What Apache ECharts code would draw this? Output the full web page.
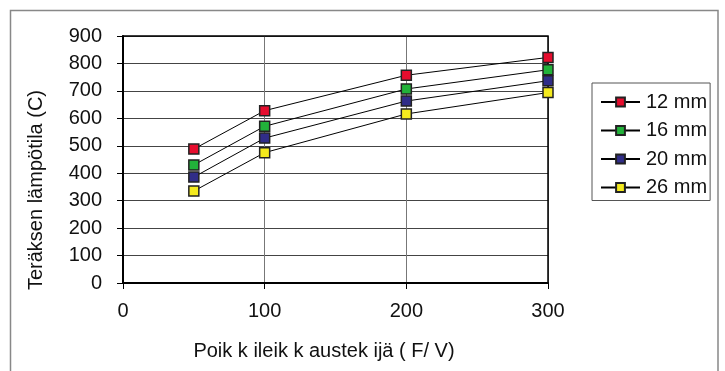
<!DOCTYPE html>
<html>
<head>
<meta charset="utf-8">
<script src="https://cdn.jsdelivr.net/npm/echarts@6/dist/echarts.min.js"></script>
<style>
html,body{margin:0;padding:0;background:#fff;}
#chart{width:725px;height:371px;}
</style>
</head>
<body>
<div id="chart"></div>
<script>
const xValues = [50, 100, 200, 300];
const seriesNames = ['12 mm', '16 mm', '20 mm', '26 mm'];
const values12 = [488, 628, 757, 822];
const values16 = [430, 571, 707, 777];
const values20 = [386, 528, 663, 737];
const values26 = [335, 475, 616, 694];
const colors = ['#E60D2E', '#22B23A', '#302D88', '#F4EA1E'];
const xTitle = 'Poik k ileik k austek ijä ( F/ V)';
const yTitle = 'Teräksen lämpötila (C)';

const allValues = [values12, values16, values20, values26];
const FONT = '"Liberation Sans", Arial, sans-serif';
const FS = 20;

const chart = echarts.init(document.getElementById('chart'), null, {renderer: 'canvas'});
const series = allValues.map((vals, i) => ({
  name: seriesNames[i],
  type: 'line',
  data: xValues.map((x, j) => [x, vals[j]]),
  symbol: 'rect',
  symbolSize: 10,
  color: colors[i],
  itemStyle: {color: colors[i], borderColor: '#222', borderWidth: 1.5},
  lineStyle: {color: '#000', width: 1},
  emphasis: {disabled: true},
  animation: false,
  z: 3
}));

chart.setOption({
  backgroundColor: '#fff',
  animation: false,
  grid: {left: 123, top: 36, width: 425, height: 247, show: false},
  xAxis: {
    type: 'value', min: 0, max: 300, interval: 100,
    axisLine: {show: true, onZero: false, lineStyle: {color: '#000', width: 2}},
    axisTick: {show: true, inside: false, length: 6, lineStyle: {color: '#000', width: 1}},
    axisLabel: {color: '#111', fontSize: FS, fontFamily: FONT, margin: 18},
    splitLine: {show: true, lineStyle: {color: '#777', width: 1}}
  },
  yAxis: {
    type: 'value', min: 0, max: 900, interval: 100,
    axisLine: {show: true, lineStyle: {color: '#000', width: 2}},
    axisTick: {show: true, inside: false, length: 6, lineStyle: {color: '#000', width: 1}},
    axisLabel: {color: '#111', fontSize: FS, fontFamily: FONT, margin: 21},
    splitLine: {show: true, lineStyle: {color: '#444', width: 1}}
  },
  legend: {
    orient: 'vertical',
    left: 592, top: 83,
    data: seriesNames,
    itemWidth: 39, itemHeight: 11,
    itemGap: 8.5,
    padding: [9, 3, 3, 8],
    borderColor: '#555', borderWidth: 1,
    backgroundColor: '#fff',
    selectedMode: false,
    textStyle: {color: '#111', fontSize: FS, fontFamily: FONT, padding: [0, 0, 0, 1]}
  },
  graphic: [
    {type: 'rect', shape: {x: 10.5, y: 10.5, width: 707.5, height: 420}, style: {fill: 'none', stroke: '#888', lineWidth: 1.5}, z: 0, silent: true},
    {type: 'rect', shape: {x: 123, y: 36, width: 425, height: 247}, style: {fill: 'none', stroke: '#000', lineWidth: 1.5}, z: 2, silent: true},
    {type: 'text', x: 324, y: 351, style: {text: xTitle, fontSize: FS, fontFamily: FONT, fill: '#111', textAlign: 'center', textVerticalAlign: 'middle'}, silent: true},
    {type: 'text', x: 36, y: 190, rotation: Math.PI / 2, style: {text: yTitle, fontSize: FS, fontFamily: FONT, fill: '#111', textAlign: 'center', textVerticalAlign: 'middle'}, silent: true}
  ],
  series: series
});
</script>
</body>
</html>
